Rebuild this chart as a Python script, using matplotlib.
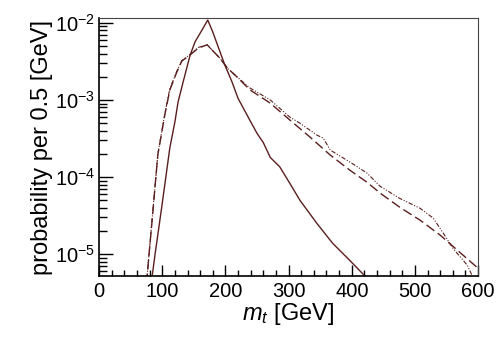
import numpy as np
import matplotlib
matplotlib.use("Agg")
import matplotlib.pyplot as plt
from matplotlib.ticker import LogLocator, MultipleLocator, NullFormatter

plt.rcParams['font.family'] = ['Liberation Sans', 'DejaVu Sans']
plt.rcParams['mathtext.fontset'] = 'custom'
plt.rcParams['mathtext.it'] = 'Liberation Sans:italic'
plt.rcParams['mathtext.rm'] = 'Liberation Sans'

# values (GeV, probability per 0.5 GeV)
mt_solid = [0, 83, 84, 88.6, 99, 112, 120, 125, 133, 144, 152, 163, 172, 180,
            195, 199, 210, 220, 236, 250, 260, 271, 286, 302, 318, 345, 370,
            397, 421, 440]
p_solid = [0, 0, 5.2e-6, 1.0e-5, 4.0e-5, 2.4e-4, 5.2e-4, 9.4e-4, 1.71e-3,
           3.8e-3, 5.7e-3, 8.1e-3, 1.09e-2, 7.6e-3, 3.5e-3, 2.85e-3, 1.75e-3,
           1.05e-3, 6.0e-4, 3.7e-4, 2.8e-4, 1.8e-4, 1.36e-4, 8.3e-5, 5.0e-5,
           2.5e-5, 1.38e-5, 8.3e-6, 5.2e-6, 3.5e-6]

mt_dash = [0, 75, 76, 84, 93, 104, 112, 123, 131, 144, 157, 171, 191,
           203, 218, 239, 271, 302, 334, 366, 397, 424, 445, 476, 508, 540,
           571, 598, 610]
p_dash = [0, 0, 5.2e-6, 2.8e-5, 1.95e-4, 6.4e-4, 1.35e-3, 2.3e-3, 3.2e-3,
          3.84e-3, 4.7e-3, 5.2e-3, 3.5e-3, 2.6e-3, 2.0e-3, 1.35e-3, 9.1e-4,
          5.5e-4, 3.3e-4, 1.93e-4, 1.23e-4, 8.6e-5, 6.2e-5, 4.07e-5, 2.77e-5,
          1.77e-5, 1.06e-5, 6.8e-6, 5.5e-6]

mt_dot = [0, 75, 76, 84, 93, 104, 112, 123, 131, 144, 157, 171, 191,
          203, 218, 239, 271, 302, 318, 345, 355, 366, 397, 424, 445, 476,
          508, 529, 545, 560, 583, 590, 600]
p_dot = [0, 0, 5.2e-6, 2.9e-5, 2.0e-4, 6.6e-4, 1.4e-3, 2.35e-3, 3.25e-3,
         3.9e-3, 4.8e-3, 5.2e-3, 3.5e-3, 2.6e-3, 2.0e-3, 1.43e-3, 1.0e-3,
         6.0e-4, 5.0e-4, 3.5e-4, 3.2e-4, 2.24e-4, 1.57e-4, 1.13e-4, 7.6e-5,
         5.3e-5, 3.95e-5, 2.94e-5, 1.87e-5, 1.2e-5, 7.2e-6, 5.4e-6, 4.0e-6]

col = '#5a1e1e'

fig = plt.figure(figsize=(4.98, 3.38), dpi=100)
ax = fig.add_axes([0.199, 0.183, 0.761, 0.764])

ax.plot(mt_solid, p_solid, '-', color=col, lw=1.0)
ax.plot(mt_dash, p_dash, color=col, lw=1.0, dashes=(7, 3))
ax.plot(mt_dot, p_dot, color=col, lw=0.8, dashes=(4, 1.5, 1, 1.5, 1, 1.5))

ax.set_yscale('log')
ax.set_xlim(0, 600)
ax.set_ylim(5.2e-6, 1.16e-2)

ax.xaxis.set_major_locator(MultipleLocator(100))
ax.xaxis.set_minor_locator(MultipleLocator(20))
ax.yaxis.set_major_locator(LogLocator(base=10, numticks=10))
ax.yaxis.set_minor_locator(LogLocator(base=10, subs=np.arange(2, 10), numticks=20))
ax.yaxis.set_minor_formatter(NullFormatter())

ax.tick_params(which='both', direction='in', top=False, right=False,
               labelsize=14.5, width=1)
ax.tick_params(axis='x', which='major', length=8, pad=4)
ax.tick_params(axis='x', which='minor', length=4)
ax.tick_params(axis='y', which='major', length=10, pad=3)
ax.tick_params(axis='y', which='minor', length=6)

for s in ['top', 'right']:
    ax.spines[s].set_linewidth(0.8)
    ax.spines[s].set_color('#444444')
for s in ['left', 'bottom']:
    ax.spines[s].set_linewidth(1.2)

ax.set_xlabel(r'$m_t$ [GeV]', fontsize=17, labelpad=0)
ax.set_ylabel('probability per 0.5 [GeV]', fontsize=17, labelpad=1)

fig.savefig('out.png', dpi=100)
